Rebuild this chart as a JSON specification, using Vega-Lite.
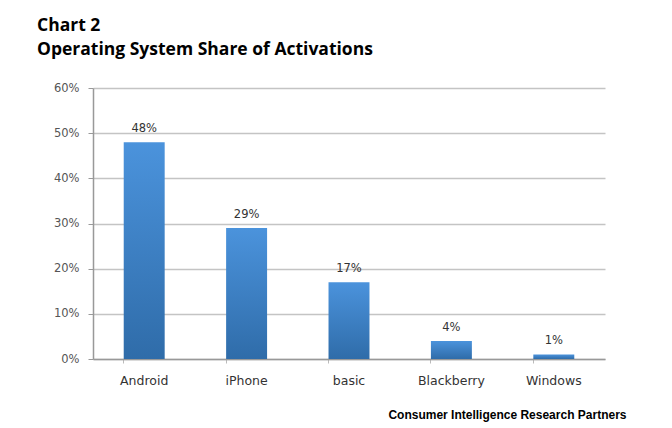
{
  "$schema": "https://vega.github.io/schema/vega-lite/v6.json",
  "autosize": {"type": "none"},
  "padding": {"left": 93, "top": 88, "right": 67, "bottom": 69},
  "width": 512,
  "height": 271,
  "background": "white",
  "title": {
    "text": ["Chart 2", "Operating System Share of Activations"],
    "anchor": "start",
    "frame": "group",
    "font": "Open Sans",
    "fontSize": 17.5,
    "fontWeight": "bold",
    "color": "black",
    "lineHeight": 24,
    "dx": -56,
    "offset": 24
  },
  "data": {
    "values": [
      {"os": "Android", "share": 0.48},
      {"os": "iPhone", "share": 0.29},
      {"os": "basic", "share": 0.17},
      {"os": "Blackberry", "share": 0.04},
      {"os": "Windows", "share": 0.01}
    ]
  },
  "encoding": {
    "x": {
      "field": "os",
      "type": "nominal",
      "sort": null,
      "scale": {"paddingInner": 0.6, "paddingOuter": 0.3},
      "axis": {
        "title": "Consumer Intelligence Research Partners",
        "titleFont": "Liberation Sans",
        "titleFontSize": 12,
        "titleFontWeight": "bold",
        "titleColor": "black",
        "titleAlign": "right",
        "titleAnchor": "end",
        "titleX": 533,
        "titleY": 50,
        "labelAngle": 0,
        "labelFont": "DejaVu Sans",
        "labelFontSize": 12.5,
        "labelColor": "#333",
        "labelPadding": 11,
        "bandPosition": 0,
        "domainColor": "#999",
        "domainWidth": 1.5,
        "tickColor": "#bbb",
        "tickSize": 4,
        "grid": false
      }
    },
    "y": {
      "field": "share",
      "type": "quantitative",
      "scale": {"domain": [0, 0.6]},
      "axis": {
        "title": null,
        "format": ".0%",
        "tickCount": 6,
        "labelFont": "DejaVu Sans",
        "labelFontSize": 11.5,
        "labelColor": "#555",
        "labelPadding": 9,
        "domainColor": "#999",
        "domainWidth": 1.5,
        "tickColor": "#999",
        "tickSize": 5,
        "gridColor": "#c4c4c4",
        "gridWidth": 1.5
      }
    }
  },
  "layer": [
    {
      "mark": {
        "type": "bar",
        "color": {
          "gradient": "linear",
          "x1": 0, "y1": 0, "x2": 0, "y2": 1,
          "stops": [
            {"offset": 0, "color": "#4b93dc"},
            {"offset": 1, "color": "#2f6ca9"}
          ]
        }
      }
    },
    {
      "mark": {
        "type": "text",
        "baseline": "bottom",
        "dy": -8,
        "font": "DejaVu Sans",
        "fontSize": 11.5,
        "color": "#333"
      },
      "encoding": {
        "text": {"field": "share", "type": "quantitative", "format": ".0%"}
      }
    }
  ],
  "config": {
    "view": {"stroke": null}
  }
}
